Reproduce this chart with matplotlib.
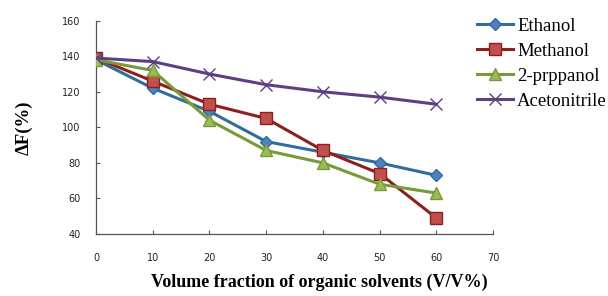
import matplotlib
matplotlib.use("Agg")
import matplotlib.pyplot as plt

x = [0, 10, 20, 30, 40, 50, 60]
ethanol = [138, 122, 109, 92, 86, 80, 73]
methanol = [139, 126, 113, 105, 87, 74, 49]
propanol = [138, 132, 104, 87, 80, 68, 63]
acetonitrile = [139, 137, 130, 124, 120, 117, 113]
labels = ["Ethanol", "Methanol", "2-prppanol", "Acetonitrile"]

fig = plt.figure(figsize=(6.08, 2.96), dpi=100)
ax = fig.add_axes([0.158, 0.2095, 0.653, 0.7205])

ax.plot(x, ethanol, color="#2F6E9C", lw=2.2, marker="D", ms=6.5,
        mfc="#4F81BD", mec="#2F6E9C", label=labels[0], zorder=3)
ax.plot(x, methanol, color="#8E1F1F", lw=2.2, marker="s", ms=9,
        mfc="#C0504D", mec="#8E1F1F", label=labels[1], zorder=3)
ax.plot(x, propanol, color="#7A9A3A", lw=2.2, marker="^", ms=9,
        mfc="#9BBB59", mec="#7A9A3A", label=labels[2], zorder=3)
ax.plot(x, acetonitrile, color="#5E3F82", lw=2.2, marker="x", ms=9,
        mew=1.0, mec="#5E3F82", label=labels[3], zorder=3)

ax.set_xlim(0, 70)
ax.set_ylim(40, 160)
ax.set_xticks(range(0, 71, 10))
ax.set_yticks(range(40, 161, 20))
for s in ["top", "right"]:
    ax.spines[s].set_visible(False)
for s in ["left", "bottom"]:
    ax.spines[s].set_color("#555555")
    ax.spines[s].set_linewidth(0.9)
ax.tick_params(axis="both", direction="in", length=3, width=0.8,
               color="#555555", labelsize=7, labelcolor="#222222")
ax.tick_params(axis="x", pad=14)
ax.tick_params(axis="y", pad=11)

fig.text(0.525, 0.047, "Volume fraction of organic solvents (V/V%)",
         family="Liberation Serif", fontsize=13, fontweight="bold",
         ha="center", va="center")
fig.text(0.04, 0.567, "ΔF(%)", family="Liberation Serif", fontsize=13.5,
         fontweight="bold", rotation=90, ha="center", va="center")

leg = fig.legend(loc="upper left", bbox_to_anchor=(0.772, 0.965), frameon=False,
                 prop={"family": "Liberation Serif", "size": 13.5},
                 handlelength=1.95, handletextpad=0.2, labelspacing=0.42,
                 borderaxespad=0)

fig.savefig("out.png", dpi=100)
